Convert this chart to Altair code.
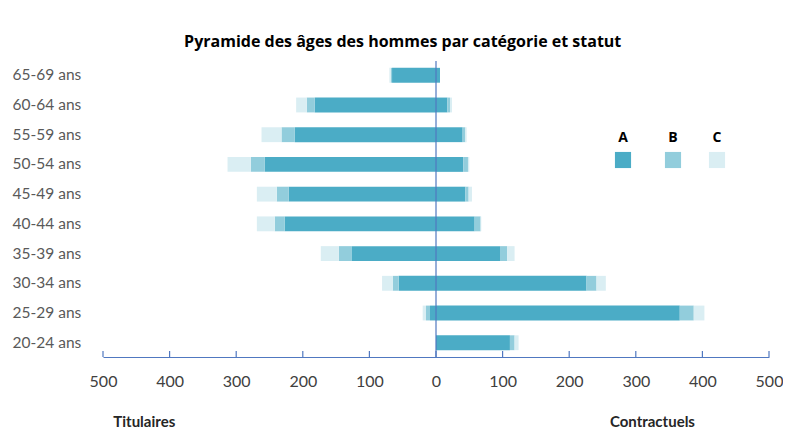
import altair as alt
import pandas as pd

ages = ["65-69 ans", "60-64 ans", "55-59 ans", "50-54 ans", "45-49 ans",
        "40-44 ans", "35-39 ans", "30-34 ans", "25-29 ans", "20-24 ans"]
cats = ["A", "B", "C"]
colors = ["#4BACC6", "#92CDDC", "#DAEEF3"]

# Titulaires (left side), segment values per category
tit_A = [66, 182, 212, 257, 221, 227, 127, 56, 9, 0]
tit_B = [2, 12, 20, 21, 18, 15, 19, 9, 6, 0]
tit_C = [2, 16, 30, 35, 30, 27, 27, 16, 5, 0]
# Contractuels (right side)
con_A = [6, 17, 40, 41, 44, 58, 97, 226, 366, 111]
con_B = [0, 4, 4, 7, 5, 9, 10, 15, 21, 7]
con_C = [0, 3, 2, 2, 5, 1, 11, 14, 16, 6]

tick_vals = [-500, -400, -300, -200, -100, 0, 100, 200, 300, 400, 500]
title_text = "Pyramide des âges des hommes par catégorie et statut"

rows = []
for side, series in (("Titulaires", (tit_A, tit_B, tit_C)), ("Contractuels", (con_A, con_B, con_C))):
    sign = -1 if side == "Titulaires" else 1
    for ci, (cat, vals) in enumerate(zip(cats, series)):
        for age, v in zip(ages, vals):
            rows.append({"age": age, "cat": cat, "ord": ci, "side": side, "value": sign * v})
df = pd.DataFrame(rows)

W, H = 666, 296
BLUE = "#5078C0"

xscale = alt.Scale(domain=[-500, 500], nice=False, zero=False)

bars = alt.Chart(df).mark_bar().encode(
    y=alt.Y("age:N", sort=ages, title=None,
            scale=alt.Scale(paddingInner=0.5, paddingOuter=0.23),
            axis=alt.Axis(domain=False, ticks=False, labelAlign="left", labelPadding=91,
                          labelFont="Lato", labelFontSize=15.5, labelColor="#595959")),
    x=alt.X("value:Q", stack="zero", scale=xscale, title=None,
            axis=alt.Axis(values=tick_vals, labelExpr="abs(datum.value)", domain=True,
                          domainColor=BLUE, domainWidth=1.2, ticks=False, grid=False,
                          labelPadding=16, labelFont="Lato", labelFontSize=16,
                          labelColor="#404040", labelFlush=False)),
    color=alt.Color("cat:N", scale=alt.Scale(domain=cats, range=colors), legend=None),
    order=alt.Order("ord:Q"),
)

zero = alt.Chart(pd.DataFrame({"z": [0]})).mark_rule(color=BLUE, strokeWidth=1.2).encode(
    x=alt.X("z:Q", scale=xscale)
)

ticks = alt.Chart(pd.DataFrame({"t": tick_vals})).mark_rule(color=BLUE, strokeWidth=1.2).encode(
    x=alt.X("t:Q", scale=xscale),
    y=alt.value(H - 6),
    y2=alt.value(H),
)

side_labels = alt.Chart(pd.DataFrame({"label": ["Titulaires", "Contractuels"], "pos": [-438, 325]})).mark_text(
    font="Lato", fontSize=15, fontWeight="bold", color="#262626", baseline="middle"
).encode(
    x=alt.X("pos:Q", scale=xscale),
    y=alt.value(361),
    text="label:N",
)

title = alt.Chart(pd.DataFrame({"t": [title_text], "pos": [-50]})).mark_text(
    font="Open Sans", fontSize=16, fontWeight="bold", color="#000000", baseline="middle"
).encode(
    x=alt.X("pos:Q", scale=xscale),
    y=alt.value(-19),
    text="t:N",
)

legend_px = [520, 570, 614]
legend_layers = []
for cat, col, px in zip(cats, colors, legend_px):
    legend_layers.append(
        alt.Chart(pd.DataFrame({"c": [cat]})).mark_text(
            font="Open Sans", fontSize=14, fontWeight="bold", color="#000000", baseline="middle"
        ).encode(x=alt.value(px), y=alt.value(77), text="c:N")
    )
    legend_layers.append(
        alt.Chart(pd.DataFrame({"c": [cat]})).mark_square(size=260, color=col, opacity=1).encode(
            x=alt.value(px), y=alt.value(99)
        )
    )

chart = alt.layer(bars, zero, ticks, side_labels, title, *legend_layers).properties(
    width=W, height=H,
    autosize=alt.AutoSizeParams(type="none"),
    padding={"left": 95, "top": 53, "right": 14, "bottom": 78},
).configure_view(stroke=None)

chart.save("out.html", embed_options={"renderer": "svg", "actions": False})
